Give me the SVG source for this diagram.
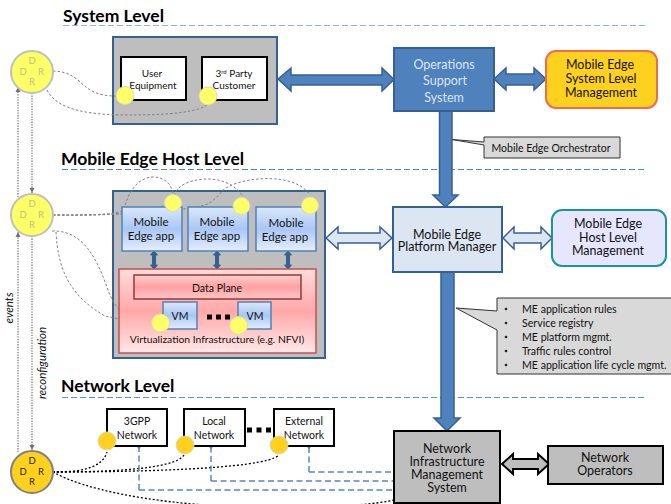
<svg xmlns="http://www.w3.org/2000/svg" width="671" height="504" viewBox="0 0 671 504">
<style>
text{font-family:"Lato","Carlito","Liberation Sans",sans-serif;fill:#111;text-anchor:middle}
.h{font-size:17.5px;font-weight:700;text-anchor:start;fill:#000}
.t9{font-size:10px}.t10{font-size:10.5px}.t11{font-size:11.5px}.t12{font-size:12.5px}
.l{text-anchor:start;font-size:10.6px}
.rule{fill:none;stroke-width:1;stroke-dasharray:6 3}
.blk{fill:#fff;stroke:#000;stroke-width:2}
.app{fill:url(#app);stroke:#4f81bd;stroke-width:1.5}
.vm{fill:url(#app);stroke:#4f81bd;stroke-width:1.5}
.y{fill:#ffff66;stroke:#d9d9c0;stroke-width:1}
.g{fill:#ffd11f;stroke:#d9d9c0;stroke-width:1}
.ddr{font-size:9.5px;fill:#bdbd8a}
.ddrk{font-size:9.5px;fill:#222}
.dot{fill:none;stroke:#808080;stroke-width:1;stroke-dasharray:2.5 2}
.dv{fill:none;stroke:#707070;stroke-width:1.2;stroke-dasharray:1.3 1.3}
.dotk{fill:none;stroke:#000;stroke-width:1.3;stroke-dasharray:2 2}
.bd{fill:none;stroke:#5585c5;stroke-width:1.5;stroke-dasharray:6 3.5}
.a1{fill:#4f81bd;stroke:#376092;stroke-width:1.5}
.a2{fill:#dce6f2;stroke:#376092;stroke-width:1.5}
.a3{fill:#bebebe;stroke:#000;stroke-width:2}
.sq{fill:#000}
.side{font-size:11.5px;font-style:italic}
</style>
<defs>
<linearGradient id="app" x1="0" y1="0" x2="0" y2="1"><stop offset="0" stop-color="#dce8f8"/><stop offset=".5" stop-color="#a9c6f5"/><stop offset="1" stop-color="#e6effb"/></linearGradient>
<linearGradient id="vi" x1="0" y1="0" x2="0" y2="1"><stop offset="0" stop-color="#ffdcdc"/><stop offset=".5" stop-color="#ffa8a8"/><stop offset="1" stop-color="#ffe8e8"/></linearGradient>
<linearGradient id="dp" x1="0" y1="0" x2="0" y2="1"><stop offset="0" stop-color="#ffd0d0"/><stop offset=".5" stop-color="#ffa0a0"/><stop offset="1" stop-color="#ffc8c8"/></linearGradient>
<marker id="ag" markerWidth="6" markerHeight="6" refX="5" refY="3" orient="auto" markerUnits="userSpaceOnUse"><path d="M0 .5L5 3L0 5.500Z" fill="#707070"/></marker>
<marker id="ab" markerWidth="12" markerHeight="12" refX="1" refY="5" orient="auto" markerUnits="userSpaceOnUse"><path d="M7 0L1 5L7 10" fill="none" stroke="#5585c5" stroke-width="1.500"/></marker>
</defs>

<g id="headings">
<text class="h" x="63" y="22">System Level</text>
<text class="h" x="61" y="165">Mobile Edge Host Level</text>
<text class="h" x="61" y="392">Network Level</text>
<path class="rule" stroke="#8db3e2" d="M63 25.500H645"/>
<path class="rule" stroke="#4f81bd" d="M62 169.500H645"/>
<path class="rule" stroke="#5f8fca" d="M62 397.500H645"/>
</g>

<g id="system-box">
<rect x="113" y="37" width="164" height="87" fill="#bebebe" stroke="#376092" stroke-width="2"/>
</g>
<g id="host-box">
<rect x="113" y="191" width="212" height="167" fill="#bebebe" stroke="#376092" stroke-width="2"/>
</g>

<g id="connectors">
<path class="dot" d="M53 71C85 72 78 96 116 96"/>
<path class="dot" d="M47 90C58 112 95 115 130 115C170 115 200 112 208 104"/>
<path class="dv" d="M18 197V87" marker-end="url(#ag)"/>
<path class="dv" d="M32 93V193" marker-end="url(#ag)"/>
<path class="dv" d="M18 452V232" marker-end="url(#ag)"/>
<path class="dv" d="M32 236V450" marker-end="url(#ag)"/>
<path class="dot" d="M53 215C85 215 112 216 124 210C128 190 140 177 153 177C165 177 172 185 173 194"/>
<path class="dot" d="M53 215C90 215 140 215 165 205C175 198 175 190 180 187C190 178 225 172 242 195"/>
<path class="dot" d="M53 215C110 216 180 212 205 205C218 200 220 190 228 187C245 177 295 172 310 195"/>
<path class="dot" d="M52 231C85 230 98 262 108 290C116 312 130 324 158 327"/>
<path class="dot" d="M56 232C58 270 70 296 105 316C140 324 190 328 238 325"/>
<path class="dotk" d="M53 472C75 472 102 470 107 452"/>
<path class="dotk" d="M53 472C100 472 175 470 184 455"/>
<path class="dotk" d="M53 472C120 472 265 470 279 455"/>
<path class="dotk" d="M53 472C85 490 150 502 220 506C280 508 360 508 394 500"/>
<path class="bd" d="M139 490V448" marker-end="url(#ab)"/>
<path class="bd" d="M139 490H394"/>
<path class="bd" d="M211 481V448" marker-end="url(#ab)"/>
<path class="bd" d="M211 481H394"/>
<path class="bd" d="M309 472V448" marker-end="url(#ab)"/>
<path class="bd" d="M309 472H394"/>
<path class="a1" d="M278 79L291 68V75H382V68L394 79.500L382 91V85H291V91Z"/>
<path class="a1" d="M494 79L506 68V74H534V68L546 79L534 90V85H506V90Z"/>
<path class="a1" d="M439.500 111H452V195H458L445.500 207L433 195H439.500Z"/>
<path class="a1" d="M441 272H454V418H460L447 431L434 418H441Z"/>
<path class="a2" d="M326 238L338 227V233H380V227L392 238L380 249V243H338V249Z"/>
<path class="a2" d="M503 238L514 227V233H541V227L552 238L541 249V243H514V249Z"/>
<path class="a3" d="M502 464L513 454V459H538V454L549 464L538 474V469H513V474Z"/>
<path d="M154 251L157.500 255H155.500V265H157.500L154 269L150.500 265H152.500V255H150.500Z" fill="#376092" stroke="#376092"/>
<path d="M217 251L220.500 255H218.500V265H220.500L217 269L213.500 265H215.500V255H213.500Z" fill="#376092" stroke="#376092"/>
<path d="M288 251L291.500 255H289.500V265H291.500L288 269L284.500 265H286.500V255H284.500Z" fill="#376092" stroke="#376092"/>
</g>

<g id="user-equipment">
<rect class="blk" x="121" y="57" width="65" height="43"/>
<text class="t9" x="152" y="77">User</text><text class="t9" x="153" y="89">Equipment</text>
</g>
<g id="third-party">
<rect class="blk" x="202" y="57" width="65" height="43"/>
<text class="t9" x="234" y="77">3<tspan font-size="6" dy="-3">rd</tspan><tspan dy="3"> Party</tspan></text><text class="t9" x="234" y="89">Customer</text>
</g>
<g id="ddr-system">
<circle cx="32" cy="72" r="21" fill="#ffff66" stroke="#bfbfbf" stroke-width="2"/>
<text class="ddr" x="32" y="64">D</text><text class="ddr" x="23" y="75">D</text><text class="ddr" x="41" y="75">R</text><text class="ddr" x="32" y="85">R</text>
</g>
<g id="ddr-host">
<circle cx="32" cy="215" r="21" fill="#ffff66" stroke="#bfbfbf" stroke-width="2"/>
<text class="ddr" x="32" y="207">D</text><text class="ddr" x="23" y="218">D</text><text class="ddr" x="41" y="218">R</text><text class="ddr" x="32" y="228">R</text>
</g>
<g id="ddr-network">
<circle cx="32" cy="472" r="21" fill="#ffd11f" stroke="#808080" stroke-width="2"/>
<text class="ddrk" x="32" y="464">D</text><text class="ddrk" x="23" y="475">D</text><text class="ddrk" x="41" y="475">R</text><text class="ddrk" x="32" y="485">R</text>
</g>
<g id="oss">
<rect x="394" y="48" width="100" height="63" fill="#4f81bd" stroke="#376092" stroke-width="2"/>
<g style="font-size:12.500px"><text x="444" y="69" style="fill:#dce6f2">Operations</text><text x="445" y="85" style="fill:#dce6f2">Support</text><text x="444" y="102" style="fill:#dce6f2">System</text></g>
</g>
<g id="me-system-mgmt">
<rect x="546" y="51" width="111" height="57" rx="10" fill="#ffd11f" stroke="#ee6b4d" stroke-width="2"/>
<text class="t12" x="600" y="69">Mobile Edge</text><text class="t12" x="601" y="83">System Level</text><text class="t12" x="601" y="97">Management</text>
</g>
<g id="orchestrator-callout">
<path d="M484 137H620V158H484V145L452 139.500L484 142Z" fill="#d9d9d9" stroke="#333" stroke-width="1"/>
<text class="t10" x="551" y="152">Mobile Edge Orchestrator</text>
</g>
<g id="app1"><rect class="app" x="122" y="207" width="60" height="44"/><text class="t11" x="151" y="226">Mobile</text><text class="t11" x="151" y="240">Edge app</text></g>
<g id="app2"><rect class="app" x="188" y="207" width="60" height="44"/><text class="t11" x="217" y="226">Mobile</text><text class="t11" x="217" y="240">Edge app</text></g>
<g id="app3"><rect class="app" x="256" y="207" width="60" height="44"/><text class="t11" x="286" y="227">Mobile</text><text class="t11" x="285" y="241">Edge app</text></g>
<g id="virtualization">
<rect x="119" y="269" width="197" height="84" fill="url(#vi)" stroke="#c0504d" stroke-width="1.500"/>
<text x="217" y="343" style="font-size:10.300px">Virtualization Infrastructure (e.g. NFVI)</text>
</g>
<g id="data-plane">
<rect x="134" y="275" width="167" height="24" fill="url(#dp)" stroke="#953735" stroke-width="1.500"/>
<text class="t10" x="217" y="292">Data Plane</text>
</g>
<g id="vm1"><rect class="vm" x="163" y="302" width="34" height="27"/><text class="t10" x="180" y="320">VM</text></g>
<g id="vm2"><rect class="vm" x="238" y="302" width="33" height="27"/><text class="t10" x="255" y="320">VM</text></g>
<g id="vm-dots"><rect class="sq" x="207" y="314.500" width="5" height="5"/><rect class="sq" x="216" y="314.500" width="5" height="5"/><rect class="sq" x="225" y="314.500" width="5" height="5"/></g>
<g id="mepm">
<rect x="393" y="207" width="109" height="65" fill="#dce6f2" stroke="#376092" stroke-width="2"/>
<text class="t12" x="447" y="239">Mobile Edge</text><text class="t12" x="447" y="251">Platform Manager</text>
</g>
<g id="me-host-mgmt">
<rect x="552" y="210" width="114" height="56" rx="10" fill="#e6e6ff" stroke="#1a9690" stroke-width="2"/>
<text class="t12" x="608" y="228">Mobile Edge</text><text class="t12" x="608" y="242">Host Level</text><text class="t12" x="608" y="255">Management</text>
</g>
<g id="platform-callout">
<path d="M671 298H497V311L456 308L497 330V374H671" fill="#d9d9d9" stroke="#333" stroke-width="1"/>
<g><text class="l" x="522" y="313">ME application rules</text><text class="l" x="522" y="327">Service registry</text><text class="l" x="522" y="341">ME platform mgmt.</text><text class="l" x="522" y="355">Traffic rules control</text><text class="l" x="522" y="369">ME application life cycle mgmt.</text></g>
<g fill="#222"><circle cx="506" cy="309" r="1.300"/><circle cx="506" cy="323" r="1.300"/><circle cx="506" cy="337" r="1.300"/><circle cx="506" cy="351" r="1.300"/><circle cx="506" cy="365" r="1.300"/></g>
</g>
<g id="net-3gpp"><rect class="blk" x="107" y="409" width="60" height="37"/><text class="t10" x="137" y="425">3GPP</text><text class="t10" x="137" y="439">Network</text></g>
<g id="net-local"><rect class="blk" x="184" y="409" width="61" height="37"/><text class="t10" x="214" y="425">Local</text><text class="t10" x="214" y="439">Network</text></g>
<g id="net-dots"><rect class="sq" x="247" y="427.500" width="5" height="5"/><rect class="sq" x="256.500" y="427.500" width="5" height="5"/><rect class="sq" x="266" y="427.500" width="5" height="5"/></g>
<g id="net-external"><rect class="blk" x="274" y="409" width="60" height="37"/><text class="t10" x="304" y="425">External</text><text class="t10" x="304" y="439">Network</text></g>
<g id="nims">
<rect x="394" y="431" width="106" height="72" fill="#bebebe" stroke="#000" stroke-width="2"/>
<text class="t12" x="447" y="453">Network</text><text class="t12" x="447" y="466">Infrastructure</text><text class="t12" x="447" y="479">Management</text><text class="t12" x="447" y="492">System</text>
</g>
<g id="net-operators">
<rect x="548" y="446" width="115" height="38" fill="#bebebe" stroke="#000" stroke-width="2"/>
<text class="t12" x="605" y="462">Network</text><text class="t12" x="605" y="475">Operators</text>
</g>
<g id="markers">
<circle class="y" cx="125" cy="95.500" r="9"/><circle class="y" cx="208" cy="96" r="9"/>
<circle class="y" cx="173" cy="203" r="8.500"/><circle class="y" cx="241.500" cy="206" r="8.500"/><circle class="y" cx="310" cy="205.500" r="8.500"/>
<circle class="y" cx="160.500" cy="323" r="9"/><circle class="y" cx="238.500" cy="325.500" r="9"/>
<circle class="g" cx="107" cy="441" r="9"/><circle class="g" cx="185" cy="445" r="9"/><circle class="g" cx="279" cy="445" r="9"/>
</g>
<g id="side-labels">
<text class="side" transform="translate(13 308) rotate(-90)">events</text>
<text class="side" transform="translate(46 363) rotate(-90)">reconfiguration</text>
</g>
</svg>
